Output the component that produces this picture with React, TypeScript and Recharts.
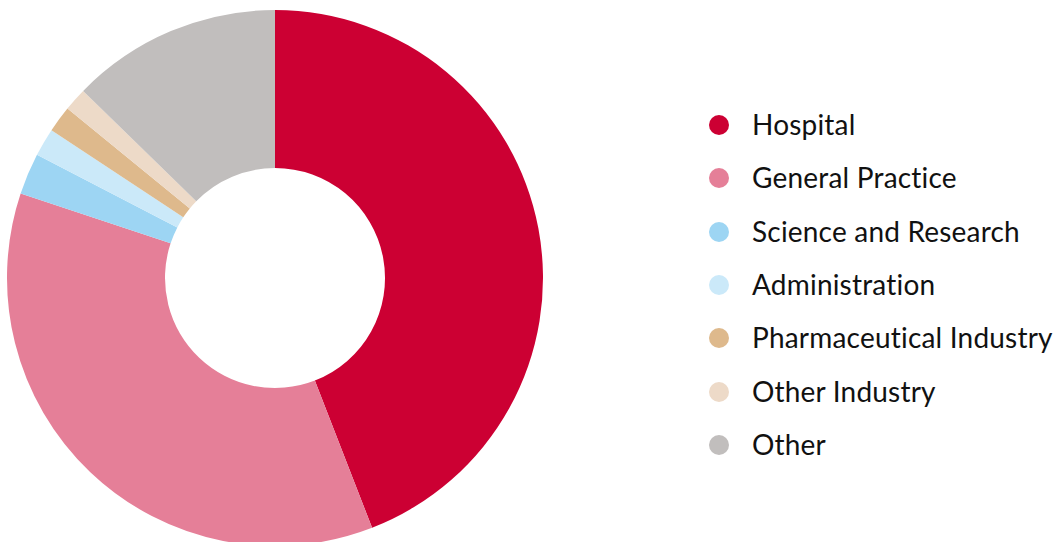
import React from "react";
import { PieChart, Pie, Cell, Legend } from "recharts";

const categories = [
  "Hospital",
  "General Practice",
  "Science and Research",
  "Administration",
  "Pharmaceutical Industry",
  "Other Industry",
  "Other",
];
const shares = [44.1, 36.0, 2.5, 1.7, 1.6, 1.4, 12.7];
const colors = ["#CC0033", "#E57F98", "#9DD5F3", "#CBE9F9", "#DEB98C", "#EDDAC8", "#C1BEBD"];

const data = categories.map((name, i) => ({ name, value: shares[i] }));

const renderLegend = () => (
  <div
    style={{
      fontFamily: "Lato",
      fontSize: 28,
      color: "#111",
      fontVariantLigatures: "none",
      fontFeatureSettings: '"liga" 0, "clig" 0',
      letterSpacing: 0.2,
    }}
  >
    {categories.map((name, i) => (
      <div
        key={name}
        style={{ height: 53.33, display: "flex", alignItems: "center", whiteSpace: "nowrap" }}
      >
        <span
          style={{
            display: "inline-block",
            width: 20,
            height: 20,
            borderRadius: 10,
            background: colors[i],
            marginLeft: 9,
            marginRight: 23,
            flex: "none",
          }}
        />
        <span style={{ lineHeight: "28px", position: "relative", top: -1 }}>{name}</span>
      </div>
    ))}
  </div>
);

export default function App() {
  return (
    <div style={{ position: "absolute", left: 0, top: 0, width: 1056, height: 542, overflow: "hidden" }}>
      <PieChart width={1056} height={542} margin={{ top: 0, right: 0, bottom: 0, left: 0 }}>
        <Pie
          data={data}
          dataKey="value"
          nameKey="name"
          cx={275}
          cy={278}
          innerRadius={110}
          outerRadius={268}
          startAngle={90}
          endAngle={-270}
          stroke="none"
          isAnimationActive={false}
        >
          {data.map((d, i) => (
            <Cell key={d.name} fill={colors[i]} />
          ))}
        </Pie>
        <Legend
          layout="vertical"
          content={renderLegend}
          wrapperStyle={{ position: "absolute", left: 700, top: 98.3, width: 356 }}
        />
      </PieChart>
    </div>
  );
}
